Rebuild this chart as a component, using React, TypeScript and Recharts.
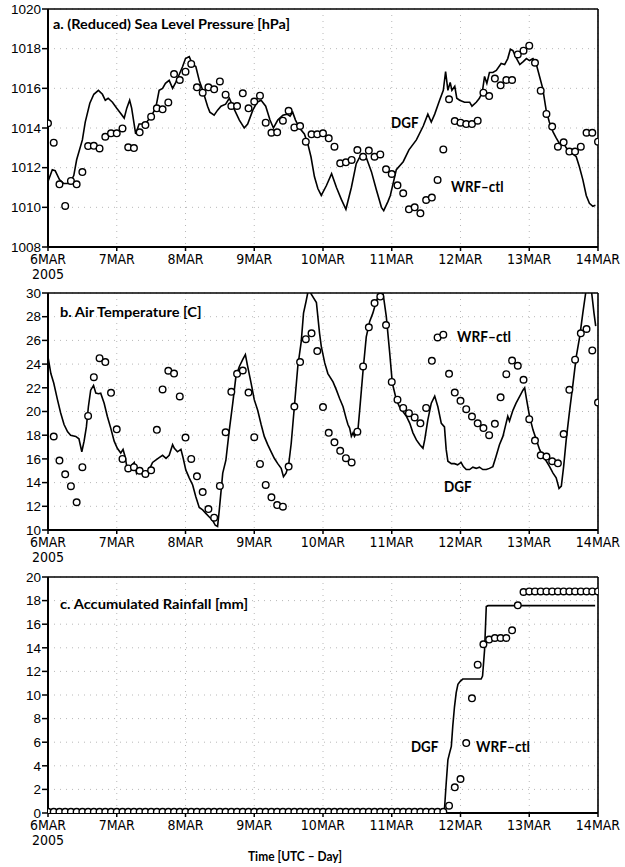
import React from 'react';
import { ComposedChart, Line, XAxis, YAxis, CartesianGrid, ReferenceLine } from 'recharts';

// ---------- X axis (hours since 6 MAR 2005 00 UTC) ----------
const dayTicks = [0, 24, 48, 72, 96, 120, 144, 168, 192];
const dayLabels = ['6MAR', '7MAR', '8MAR', '9MAR', '10MAR', '11MAR', '12MAR', '13MAR', '14MAR'];
const yearLabel = '2005';

// ---------- a. Sea level pressure ----------
const slpTicks = [1008, 1010, 1012, 1014, 1016, 1018, 1020];
const slpWrfHours = [
  0, 2, 4, 6, 8, 10, 12, 14, 16, 18, 20, 22, 24, 26, 28, 30, 32, 34, 36, 38, 40, 42, 44, 46, 48,
  50, 52, 54, 56, 58, 60, 62, 64, 66, 68, 70, 72, 74, 76, 78, 80, 82, 84, 86, 88, 90, 92, 94, 96,
  98, 100, 102, 104, 106, 108, 110, 112, 114, 116, 118, 120, 122, 124, 126, 128, 130, 132, 134, 136, 138, 140, 142, 144,
  146, 148, 150, 152, 154, 156, 158, 160, 162, 164, 166, 168, 170, 172, 174, 176, 178, 180, 182, 184, 186, 188, 190, 192,
];
const slpWrfValues = [
  1014.24, 1013.26, 1011.16, 1010.07, 1011.33, 1011.16, 1011.78, 1013.09, 1013.1, 1012.97, 1013.56, 1013.73, 1013.73,
  1013.98, 1013.03, 1012.99, 1013.78, 1014.15, 1014.57, 1014.99, 1014.94, 1015.29, 1016.72, 1016.42, 1016.84,
  1017.23, 1016.05, 1015.78, 1016.05, 1015.95, 1016.35, 1015.68, 1015.11, 1015.11, 1015.75, 1014.99, 1015.33,
  1015.63, 1014.27, 1013.76, 1013.78, 1014.37, 1014.87, 1014.03, 1014.1, 1013.31, 1013.68, 1013.68, 1013.73,
  1013.48, 1013.06, 1012.22, 1012.27, 1012.39, 1012.89, 1012.55, 1012.86, 1012.55, 1012.67, 1011.92, 1011.68,
  1011.11, 1010.71, 1009.9, 1010.0, 1009.7, 1010.37, 1010.49, 1011.38, 1012.92, 1015.45, 1014.35, 1014.27,
  1014.2, 1014.2, 1014.37, 1015.78, 1015.61, 1016.49, 1016.15, 1016.42, 1016.42, 1017.71, 1017.9, 1018.15,
  1017.29, 1015.88, 1014.71, 1014.07, 1013.06, 1013.28, 1012.81, 1012.81, 1013.06, 1013.76, 1013.76, 1013.31,
];
const slpDgfHours = [
  0, 1.5, 2.5, 4, 5.5, 7.5, 9, 10, 12, 13, 14.6, 16, 17.6, 19, 20, 21, 22.5, 24, 24.8, 26.6, 27.5, 28.5, 29.2,
  30.6, 31.8, 34, 36, 37.6, 38.8, 40, 41, 42.3, 43.5, 44.6, 45.8, 47, 48, 49.3, 50.5, 51.6, 52.8, 54, 55.7, 56.5,
  58, 59.2, 60.4, 62, 63.3, 64.5, 66.8, 68.5, 69.7, 71.5, 73, 74.4, 76, 77.5, 78.7, 80.2, 82, 83.4, 84.5, 85.4,
  86.4, 87.8, 89.5, 90.7, 91.8, 93, 94.2, 95.4, 97.2, 99, 100.7, 102.4, 104, 105.9, 107.6, 109.4, 111, 112.9,
  114.6, 116.4, 117.2, 118.7, 119.5, 121.6, 124, 126, 128.6, 131, 132.6, 133.8, 135, 136.7, 138, 138.8, 139.6,
  140.4, 141, 142, 142.7, 143.7, 145.4, 147.2, 148, 149.5, 150.6, 151.6, 152.4, 153.2, 154.1, 155.3, 156.5,
  158.2, 159.4, 160.5, 161.4, 162.3, 163.4, 164.7, 165.9, 167, 168.1, 169.3, 170.4, 171.6, 172.7, 173.9, 175,
  176.3, 177.4, 178.6, 179.7, 180.9, 182, 183.2, 184.4, 185.5, 186.7, 187.9, 189, 190.2, 191.1,
];
const slpDgfValues = [
  1011.3, 1011.9, 1011.85, 1011.4, 1011.2, 1011.2, 1011.6, 1012.4, 1013.4, 1014.3, 1015.25, 1015.7, 1015.9,
  1015.7, 1015.4, 1015.5, 1015.3, 1015.0, 1014.85, 1014.5, 1015.0, 1015.4, 1015.0, 1013.7, 1014.2, 1014.2,
  1014.6, 1015.0, 1015.9, 1016.0, 1016.25, 1016.4, 1016.0, 1016.3, 1016.7, 1017.1, 1017.5, 1017.6, 1017.2,
  1017.1, 1016.4, 1015.9, 1015.1, 1014.8, 1014.65, 1014.9, 1015.1, 1015.2, 1015.5, 1015.1, 1014.4, 1014.0,
  1014.2, 1014.9, 1015.3, 1015.4, 1015.1, 1014.4, 1014.0, 1014.4, 1014.65, 1014.7, 1014.6, 1014.8, 1014.4,
  1014.0, 1013.7, 1013.2, 1012.55, 1011.55, 1010.95, 1010.6, 1011.1, 1011.7, 1011.0, 1010.4, 1009.9, 1011.0,
  1012.2, 1012.7, 1012.55, 1011.8, 1010.9, 1010.0, 1009.83, 1010.3, 1010.6, 1011.9, 1012.3, 1012.9, 1013.4,
  1014.1, 1014.7, 1014.3, 1014.7, 1015.4, 1015.9, 1016.85, 1015.9, 1016.3, 1015.9, 1016.1, 1015.5, 1015.4,
  1015.3, 1015.3, 1015.1, 1015.3, 1015.5, 1015.8, 1016.6, 1016.25, 1016.8, 1016.8, 1016.9, 1017.25, 1017.2,
  1017.5, 1017.97, 1017.9, 1017.55, 1017.2, 1017.35, 1017.5, 1017.4, 1017.5, 1017.25, 1016.6, 1016.0, 1014.9,
  1014.3, 1013.8, 1013.5, 1013.2, 1013.3, 1013.0, 1012.8, 1012.7, 1012.55, 1012.05, 1011.4, 1010.6, 1010.2,
  1010.05, 1010.1,
];

// ---------- b. Air temperature ----------
const tTicks = [10, 12, 14, 16, 18, 20, 22, 24, 26, 28, 30];
const tWrfHours = [
  2, 4, 6, 8, 10, 12, 14, 16, 18, 20, 22, 24, 26, 28, 30, 32, 34, 36, 38, 40, 42, 44, 46, 48,
  50, 52, 54, 56, 58, 60, 62, 64, 66, 68, 70, 72, 74, 76, 78, 80, 82, 84, 86, 88, 90, 92, 94, 96,
  98, 100, 102, 104, 106, 108, 110, 112, 114, 116, 118, 120, 122, 124, 126, 128, 130, 132, 134, 136, 138, 140, 142, 144,
  146, 148, 150, 152, 154, 156, 158, 160, 162, 164, 166, 168, 170, 172, 174, 176, 178, 180, 182, 184, 186, 188, 190, 192,
];
const tWrfValues = [
  17.89, 15.86, 14.7, 13.7, 12.34, 15.3, 19.63, 22.9, 24.5, 24.17, 21.58, 18.5, 16.0, 15.2, 15.3, 15.0, 14.73,
  15.04, 18.45, 21.86, 23.44, 23.2, 21.27, 17.8, 16.0, 14.53, 13.2, 11.77, 11.04, 13.72, 18.25, 21.66, 23.18,
  23.46, 21.6, 17.83, 15.58, 13.8, 12.76, 12.1, 11.97, 15.35, 20.42, 24.17, 26.1, 26.6, 25.1, 20.37, 18.2, 17.4,
  16.68, 16.06, 15.7, 18.3, 23.8, 27.1, 29.15, 29.7, 27.3, 22.5, 21.0, 20.3, 19.86, 19.5, 19.0, 20.3, 24.28,
  26.25, 26.48, 23.18, 21.6, 20.9, 20.2, 19.58, 19.0, 18.6, 18.0, 18.96, 21.2, 23.15, 24.3, 23.86, 22.68, 19.35,
  17.55, 16.3, 16.2, 15.8, 15.63, 18.1, 21.83, 24.37, 26.6, 26.96, 25.15, 20.76,
];
const tDgfHours = [
  0, 1, 2, 3.3, 4.4, 5.6, 6.8, 7.9, 9.7, 10.8, 11.8, 12.6, 13.4, 14.1, 14.9, 15.9, 16.7, 17.6, 18.4, 19.6, 20.7,
  21.9, 23.1, 24.2, 25.4, 26.2, 26.9, 27.7, 28.9, 30.1, 30.9, 31.8, 33, 34.2, 35.3, 36.5, 37.6, 38.8, 40, 41.2,
  42.3, 43.5, 44.1, 45.2, 46.4, 47.2, 48.1, 49.3, 50.5, 51.6, 52.8, 54, 55.1, 56.3, 57.5, 58.4, 59.2, 59.8, 61,
  62.1, 63.3, 64.5, 65.6, 66.8, 68, 68.9, 69.7, 70.9, 72, 73.2, 74.4, 75.5, 76.7, 77.9, 79, 80.2, 81.4, 82.2,
  83.1, 84, 84.9, 86, 87.2, 88.4, 89.2, 90.1, 91, 91.9, 93.7, 94.8, 95.4, 96.6, 97.7, 99.5, 100.7, 101.8, 103,
  104.1, 104.7, 105.3, 105.9, 106.5, 107, 108.2, 108.8, 110, 111.1, 112.3, 113.4, 114.6, 115.8, 117, 118.1,
  119.3, 120.2, 121.6, 122.7, 123.9, 125.1, 126.3, 127.4, 128.6, 129.8, 130.9, 131.5, 132.6, 133.8, 135, 136.1,
  137.3, 138.4, 139, 139.6, 140.8, 141.9, 143, 144.2, 145, 146, 147.2, 148.3, 149.5, 150.6, 151.8, 153, 154.1,
  155.3, 156.4, 157.6, 158.8, 159.9, 160.5, 161.1, 162.3, 163.4, 164.7, 165.8, 166.4, 167, 168.1, 169.3, 170.5,
  171.6, 172.8, 174, 175.1, 176.3, 177.4, 178.4, 179.2, 180, 180.9, 182.1, 183.3, 184.4, 185.6, 186.7, 187.7,
  188.7, 189.8, 190.6, 191.2,
];
const tDgfValues = [
  24.6, 23.2, 22.4, 21.0, 19.9, 18.9, 18.3, 18.0, 17.9, 17.7, 16.6, 17.5, 18.7, 20.4, 21.8, 22.2, 21.55, 21.5,
  21.55, 20.7, 19.6, 18.6, 17.5, 16.9, 16.5, 16.8, 16.2, 15.1, 15.35, 15.7, 14.8, 15.2, 14.7, 14.9, 15.07, 15.7,
  15.9, 16.1, 16.3, 16.05, 16.3, 17.2, 16.9, 16.6, 16.8, 16.05, 15.07, 14.4, 13.8, 12.8, 11.9, 11.7, 11.4, 11.1,
  10.8, 10.4, 10.3, 11.7, 14.8, 15.9, 18.45, 20.7, 22.95, 23.8, 24.4, 24.8, 23.8, 22.4, 21.0, 20.1, 18.9, 17.9,
  17.2, 16.6, 16.05, 15.6, 15.2, 14.5, 14.8, 15.5, 17.3, 20.4, 23.8, 25.9, 28.3, 29.3, 30.4, 29.9, 29.2, 26.6,
  25.5, 24.1, 23.2, 22.5, 21.8, 21.1, 20.4, 19.4, 18.9, 18.6, 17.9, 18.2, 17.9, 18.45, 20.1, 23.5, 26.3, 27.6,
  28.3, 29.3, 30.0, 29.9, 28.0, 24.9, 22.4, 21.0, 20.4, 20.0, 19.6, 19.0, 18.2, 17.6, 17.2, 16.9, 17.6, 19.3,
  20.7, 21.3, 20.4, 19.0, 18.7, 16.8, 15.8, 15.6, 15.6, 15.5, 15.7, 15.35, 15.1, 15.1, 15.3, 15.2, 15.3, 15.1,
  15.1, 15.2, 15.35, 16.2, 17.2, 17.9, 19.0, 19.6, 19.2, 20.1, 20.7, 21.3, 21.8, 22.0, 21.1, 19.6, 18.45, 17.6,
  16.8, 16.2, 15.8, 15.35, 14.8, 14.4, 13.5, 13.7, 15.35, 17.6, 20.1, 22.4, 24.6, 26.3, 28.3, 30.0, 30.8, 30.0,
  28.3, 27.2,
];

// ---------- c. Accumulated rainfall ----------
const rainTicks = [0, 2, 4, 6, 8, 10, 12, 14, 16, 18, 20];
const rainWrfHours = [
  0, 2, 4, 6, 8, 10, 12, 14, 16, 18, 20, 22, 24, 26, 28, 30, 32, 34, 36, 38, 40, 42, 44, 46, 48,
  50, 52, 54, 56, 58, 60, 62, 64, 66, 68, 70, 72, 74, 76, 78, 80, 82, 84, 86, 88, 90, 92, 94, 96,
  98, 100, 102, 104, 106, 108, 110, 112, 114, 116, 118, 120, 122, 124, 126, 128, 130, 132, 134, 136, 138, 140, 142, 144,
  146, 148, 150, 152, 154, 156, 158, 160, 162, 164, 166, 168, 170, 172, 174, 176, 178, 180, 182, 184, 186, 188, 190, 192,
];
const rainWrfValues = [
  0.1, 0.1, 0.1, 0.1, 0.1, 0.1, 0.1, 0.1, 0.1, 0.1, 0.1, 0.1, 0.1, 0.1, 0.1, 0.1, 0.1, 0.1, 0.1, 0.1, 0.1, 0.1,
  0.1, 0.1, 0.1, 0.1, 0.1, 0.1, 0.1, 0.1, 0.1, 0.1, 0.1, 0.1, 0.1, 0.1, 0.1, 0.1, 0.1, 0.1, 0.1, 0.1, 0.1, 0.1,
  0.1, 0.1, 0.1, 0.1, 0.1, 0.1, 0.1, 0.1, 0.1, 0.1, 0.1, 0.1, 0.1, 0.1, 0.1, 0.1, 0.1, 0.1, 0.1, 0.1, 0.1, 0.1,
  0.1, 0.1, 0.1, 0.1, 0.62, 2.18, 2.88, 5.93, 9.72, 12.57, 14.3, 14.7, 14.83, 14.83, 14.83, 15.48, 17.6, 18.73,
  18.78, 18.78, 18.78, 18.78, 18.78, 18.78, 18.78, 18.78, 18.78, 18.78, 18.78, 18.78, 18.78,
];
const rainDgfHours = [0, 137.5, 138.4, 139, 139.6, 140.2, 140.8, 141.3, 141.9, 142.5, 143.1, 143.9, 144.8, 151.2, 151.7, 152.4, 153, 153.6, 191];
const rainDgfValues = [0.1, 0.1, 0.3, 2.5, 4.5, 5.1, 5.65, 7.35, 9.0, 10.2, 10.9, 11.16, 11.35, 11.35, 11.6, 13.8, 17.5, 17.57, 17.57];

const toRows = (hours: number[], values: number[]) => hours.map((h, i) => ({ h, v: values[i] }));

const TICK_FONT = "'Liberation Sans', Arial, sans-serif";
const XTICK_FONT = "'Liberation Sans Narrow', 'Arial Narrow', 'DejaVu Sans Condensed', sans-serif";
const LABEL_FONT = "Lato, 'Open Sans', sans-serif";

const XTick = (props: any) => {
  const { x, y, payload, index } = props;
  const i = dayTicks.indexOf(payload.value);
  return (
    <g>
      <text x={x} y={y + 10.5} textAnchor="middle" fontFamily={XTICK_FONT} fontSize={14} fill="#000">
        {dayLabels[i]}
      </text>
      {index === 0 && (
        <text x={x} y={y + 25.5} textAnchor="middle" fontFamily={XTICK_FONT} fontSize={14} fill="#000">
          {yearLabel}
        </text>
      )}
    </g>
  );
};

type PanelProps = {
  top: number;
  height: number;
  plotTop: number;
  xAxisHeight: number;
  yTicks: number[];
  dgf: { h: number; v: number }[];
  wrf: { h: number; v: number }[];
};

const Panel = ({ top, height, plotTop, xAxisHeight, yTicks, dgf, wrf }: PanelProps) => {
  const lo = yTicks[0];
  const hi = yTicks[yTicks.length - 1];
  return (
    <div style={{ position: 'absolute', left: 0, top, width: 625, height }}>
      <ComposedChart width={625} height={height} margin={{ top: plotTop, right: 27, left: 0, bottom: 0 }}>
        <CartesianGrid stroke="#b8b8b8" strokeDasharray="1 5" strokeWidth={1} />
        <XAxis
          type="number"
          dataKey="h"
          domain={[0, 192]}
          ticks={dayTicks}
          interval={0}
          allowDataOverflow
          height={xAxisHeight}
          tickSize={4}
          tickMargin={2}
          tick={<XTick />}
          axisLine={{ stroke: '#000', strokeWidth: 2 }}
          tickLine={{ stroke: '#000', strokeWidth: 1.5 }}
        />
        <YAxis
          type="number"
          domain={[lo, hi]}
          ticks={yTicks}
          interval={0}
          allowDataOverflow
          width={48}
          tickSize={6}
          tickMargin={1}
          tick={{ fill: '#000', fontSize: 13.5, fontFamily: TICK_FONT }}
          axisLine={{ stroke: '#000', strokeWidth: 2 }}
          tickLine={{ stroke: '#000', strokeWidth: 1.5 }}
        />
        <ReferenceLine y={hi} stroke="#000" strokeWidth={1.6} />
        <ReferenceLine x={192} stroke="#000" strokeWidth={1.6} />
        <Line
          data={dgf}
          dataKey="v"
          type="linear"
          stroke="#000"
          strokeWidth={1.6}
          dot={false}
          activeDot={false}
          isAnimationActive={false}
        />
        <Line
          data={wrf}
          dataKey="v"
          type="linear"
          stroke="none"
          dot={{ r: 3.3, fill: '#fff', stroke: '#000', strokeWidth: 1.4 }}
          activeDot={false}
          isAnimationActive={false}
        />
      </ComposedChart>
    </div>
  );
};

const Ann = ({ x, y, len, size, children }: any) => (
  <text
    x={x}
    y={y}
    fontFamily={LABEL_FONT}
    fontWeight={700}
    fontSize={size}
    fill="#000"
    textLength={len}
    lengthAdjust="spacingAndGlyphs"
  >
    {children}
  </text>
);

export default function App() {
  return (
    <div style={{ position: 'absolute', left: 0, top: 0, width: 625, height: 867, background: '#fff' }}>
      <Panel top={0} height={290} plotTop={9} xAxisHeight={43} yTicks={slpTicks} dgf={toRows(slpDgfHours, slpDgfValues)} wrf={toRows(slpWrfHours, slpWrfValues)} />
      <Panel top={270} height={300} plotTop={23} xAxisHeight={40} yTicks={tTicks} dgf={toRows(tDgfHours, tDgfValues)} wrf={toRows(tWrfHours, tWrfValues)} />
      <Panel top={550} height={317} plotTop={27} xAxisHeight={54} yTicks={rainTicks} dgf={toRows(rainDgfHours, rainDgfValues)} wrf={toRows(rainWrfHours, rainWrfValues)} />
      <svg width={625} height={867} style={{ position: 'absolute', left: 0, top: 0, pointerEvents: 'none' }}>
        <Ann x={53} y={29} len={237} size={14}>a. (Reduced) Sea Level Pressure [hPa]</Ann>
        <Ann x={391} y={128} len={27.5} size={15}>DGF</Ann>
        <Ann x={451} y={192} len={52.5} size={15}>WRF–ctl</Ann>
        <Ann x={60} y={316.5} len={141.5} size={14}>b. Air Temperature [C]</Ann>
        <Ann x={457} y={342} len={54} size={15}>WRF–ctl</Ann>
        <Ann x={444} y={491.5} len={27.7} size={15}>DGF</Ann>
        <Ann x={60} y={609} len={188} size={14}>c. Accumulated Rainfall [mm]</Ann>
        <Ann x={411} y={751.5} len={27.3} size={15}>DGF</Ann>
        <Ann x={476} y={751.5} len={54} size={15}>WRF–ctl</Ann>
        <Ann x={248} y={861} len={94} size={13}>Time [UTC – Day]</Ann>
      </svg>
    </div>
  );
}
